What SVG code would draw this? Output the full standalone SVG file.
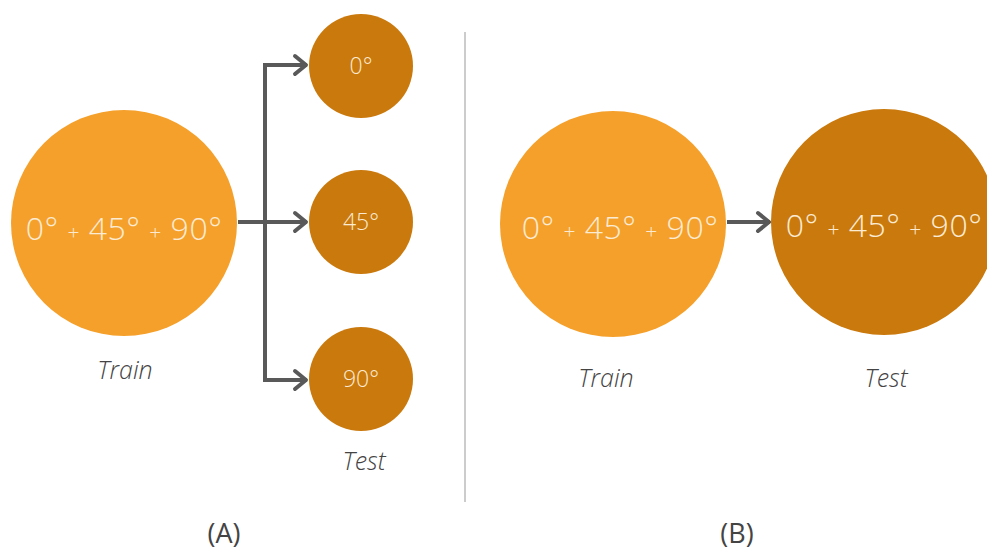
<svg xmlns="http://www.w3.org/2000/svg" width="987" height="552" viewBox="0 0 987 552">
<style>
.light{fill:#F5A02B}
.dark{fill:#CA790C}
.big{font-family:"Open Sans","Liberation Sans",sans-serif;font-weight:300;font-size:32px;fill:#FBEBD3;text-anchor:middle;letter-spacing:0.5px}
.plus{font-size:21px}
.small{font-family:"Open Sans","Liberation Sans",sans-serif;font-weight:300;font-size:23px;fill:#FBEBD3;text-anchor:middle}
.lbl{font-family:"Open Sans","Liberation Sans",sans-serif;font-weight:300;font-style:italic;font-size:25px;fill:#444;text-anchor:middle}
.cap{font-family:"Open Sans","Liberation Sans",sans-serif;font-size:27px;fill:#444;text-anchor:middle}
.conn{fill:none;stroke:#595959;stroke-width:4}
</style>
<defs>
<marker id="head" viewBox="0 0 20 24" markerWidth="20" markerHeight="24" refX="17" refY="12" orient="auto" markerUnits="userSpaceOnUse">
<path d="M5,3 L16,12 L5,21" fill="none" stroke="#595959" stroke-width="4" stroke-linecap="round" stroke-linejoin="round"/>
</marker>
</defs>
<line x1="465" y1="32" x2="465" y2="502" stroke="#BBBBBB" stroke-width="1.5"/>
<g id="connectors">
<path class="conn" d="M238,222 H307" marker-end="url(#head)"/>
<path class="conn" d="M307,65 H265 V380 H307" marker-end="url(#head)"/>
<path class="conn" d="M265,65 H307" marker-end="url(#head)"/>
<path class="conn" d="M727,222 H770" marker-end="url(#head)"/>
</g>
<g id="trainA">
<circle class="light" cx="124" cy="223" r="113"/>
<text class="big" x="124" y="240">0° <tspan class="plus">+</tspan> 45° <tspan class="plus">+</tspan> 90°</text>
<text class="lbl" x="125" y="379">Train</text>
</g>
<g id="test0">
<circle class="dark" cx="361" cy="66" r="52"/>
<text class="small" x="361" y="74">0°</text>
</g>
<g id="test45">
<circle class="dark" cx="361" cy="222" r="52"/>
<text class="small" x="361" y="230">45°</text>
</g>
<g id="test90">
<circle class="dark" cx="361" cy="379" r="52"/>
<text class="small" x="361" y="387">90°</text>
<text class="lbl" x="364" y="470">Test</text>
</g>
<g id="trainB">
<circle class="light" cx="613" cy="224" r="113"/>
<text class="big" x="620" y="239">0° <tspan class="plus">+</tspan> 45° <tspan class="plus">+</tspan> 90°</text>
<text class="lbl" x="606" y="387">Train</text>
</g>
<g id="testB">
<circle class="dark" cx="884" cy="222" r="113"/>
<text class="big" x="884" y="237">0° <tspan class="plus">+</tspan> 45° <tspan class="plus">+</tspan> 90°</text>
<text class="lbl" x="886" y="387">Test</text>
</g>
<text class="cap" x="224" y="543">(A)</text>
<text class="cap" x="737" y="543">(B)</text>
</svg>
